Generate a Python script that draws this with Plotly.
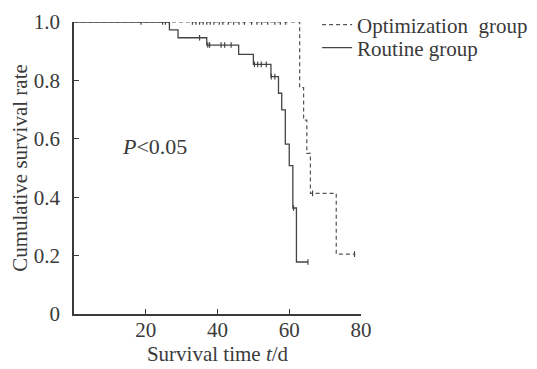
import numpy as np
import plotly.graph_objects as go

# Kaplan-Meier step data
opt_times = [0, 62.9, 64.0, 64.9, 65.9, 73.1, 78.2]
opt_surv = [1.0, 0.775, 0.664, 0.550, 0.413, 0.205, 0.205]
opt_censor = [18.7, 24.7, 25.5, 26.6, 33, 34, 35, 36, 37, 38, 39, 40.5, 41.5,
              43, 44.5, 46, 47.5, 49.5, 51, 52.3, 54, 56, 57.5, 59, 66.5, 78.2]

rout_times = [0, 26.6, 29.0, 37.0, 45.9, 50.0, 54.9, 57.0, 57.9, 58.9, 60.0, 61.0, 62.0, 65.2]
rout_surv = [1.0, 0.973, 0.946, 0.921, 0.889, 0.855, 0.813, 0.756, 0.699, 0.582, 0.508, 0.363, 0.178, 0.178]
rout_censor = [35, 37.3, 37.8, 41, 42, 43.8, 50.3, 51.2, 52.2, 53.6, 55, 56, 61.2, 65.2]

x_ticks = [20, 40, 60, 80]
y_ticks = [0, 0.2, 0.4, 0.6, 0.8, 1.0]
y_ticktext = ["0", "0.2", "0.4", "0.6", "0.8", "1.0"]

def step_at(times, surv, t):
    idx = np.searchsorted(np.array(times), np.array(t), side="right") - 1
    return list(np.array(surv)[idx])

FONT = "Liberation Serif, Times New Roman, serif"
INK = "#3a3a3a"
FS = 21

fig = go.Figure()
fig.add_trace(go.Scatter(x=opt_times, y=opt_surv, mode="lines", line_shape="hv",
                         line=dict(color="#555555", width=1.2, dash="4px,3px"),
                         name="Optimization\u00a0\u00a0group", legend="legend"))
fig.add_trace(go.Scatter(x=rout_times, y=rout_surv, mode="lines", line_shape="hv",
                         line=dict(color="#444444", width=1.3),
                         name="Routine group", legend="legend2"))
fig.add_trace(go.Scatter(x=opt_censor, y=step_at(opt_times, opt_surv, opt_censor),
                         mode="markers", showlegend=False,
                         marker=dict(symbol="line-ns", size=4, line=dict(color="#444444", width=1.2))))
fig.add_trace(go.Scatter(x=rout_censor, y=step_at(rout_times, rout_surv, rout_censor),
                         mode="markers", showlegend=False,
                         marker=dict(symbol="line-ns", size=4, line=dict(color="#444444", width=1.2))))

fig.add_annotation(x=22.5, y=0.575, xref="x", yref="y", showarrow=False,
                   text="<i>P</i><0.05", font=dict(family=FONT, size=22, color=INK))

leg_common = dict(xanchor="left", yanchor="top", bgcolor="rgba(0,0,0,0)",
                  font=dict(size=FS, family=FONT, color=INK), itemwidth=30)

# page body has an 8px margin: figure is 529x361 placed at (8, 8)
fig.update_layout(
    width=529, height=361,
    margin=dict(l=66, r=176, t=14, b=55, autoexpand=False),
    paper_bgcolor="white", plot_bgcolor="white",
    font=dict(family=FONT, size=FS, color=INK),
    legend=dict(x=0.847, y=1.06, **leg_common),
    legend2=dict(x=0.847, y=0.981, **leg_common),
)
fig.update_xaxes(range=[0, 80], tickvals=x_ticks, ticks="inside", ticklen=5,
                 tickcolor=INK, showline=True, linecolor=INK, linewidth=1.5,
                 showgrid=False, zeroline=False, tickfont=dict(size=FS),
                 ticklabelstandoff=-4,
                 title=dict(text="Survival time <i>t</i>/d", font=dict(size=FS), standoff=0))
fig.update_yaxes(range=[0, 1.0], tickvals=y_ticks, ticktext=y_ticktext, ticks="inside",
                 ticklen=5, tickcolor=INK, showline=True, linecolor=INK, linewidth=1.5,
                 showgrid=False, zeroline=False, tickfont=dict(size=FS),
                 ticklabelstandoff=8,
                 title=dict(text="Cumulative survival rate", font=dict(size=FS), standoff=3))

fig.write_html("out.html")
